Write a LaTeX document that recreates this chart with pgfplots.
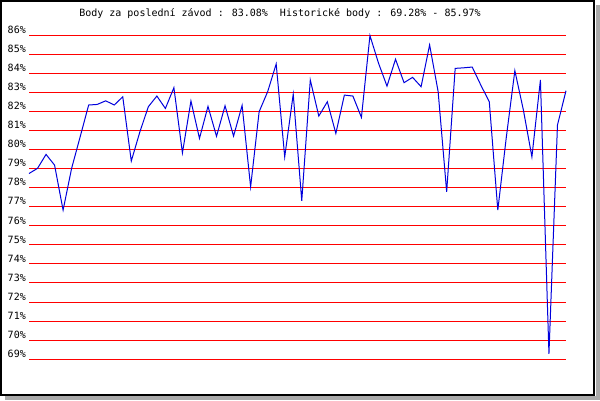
\documentclass[border=0pt]{standalone}
\usepackage{pgfplots}
\pgfplotsset{compat=1.18}
\usepackage{fontspec}
\setmainfont{DejaVu Sans Mono}
\definecolor{gridred}{RGB}{255,0,0}
\definecolor{lineblue}{RGB}{0,0,220}
\definecolor{shadowgray}{RGB}{170,170,170}
\begin{document}
\begin{tikzpicture}[x=1pt,y=1pt]
\useasboundingbox (0,0) rectangle (600,400);
\fill[white] (0,0) rectangle (600,400);
\fill[shadowgray] (5,0) rectangle (600,4);
\fill[shadowgray] (596,0) rectangle (600,395);
\begin{axis}[
  at={(29pt,40.7pt)}, anchor=south west,
  scale only axis, width=537pt, height=324.3pt,
  xmin=0, xmax=63, ymin=69, ymax=86,
  clip=false,
  axis line style={draw=none},
  tick style={draw=none},
  xtick=\empty,
  ytick={69,70,...,86},
  yticklabels={69\%,70\%,71\%,72\%,73\%,74\%,75\%,76\%,77\%,78\%,79\%,80\%,81\%,82\%,83\%,84\%,85\%,86\%},
  yticklabel style={anchor=base east, inner sep=0pt, xshift=-3pt, yshift=1.7pt, font=\fontsize{10}{12}\selectfont},
  ymajorgrids,
  grid style={gridred, line width=1pt},
]
\addplot[lineblue, line width=1pt, mark=none] coordinates {
(0,78.74) (1,79.01) (2,79.74) (3,79.18) (4,76.82) (5,79.01) (6,80.66) (7,82.33)
(8,82.36) (9,82.55) (10,82.33) (11,82.76) (12,79.39) (13,80.91) (14,82.24) (15,82.80)
(16,82.15) (17,83.24) (18,79.82) (19,82.54) (20,80.58) (21,82.26) (22,80.69) (23,82.29)
(24,80.70) (25,82.31) (26,78.04) (27,81.98) (28,83.03) (29,84.48) (30,79.61) (31,82.90)
(32,77.31) (33,83.64) (34,81.75) (35,82.50) (36,80.84) (37,82.85) (38,82.80) (39,81.68)
(40,85.97) (41,84.53) (42,83.32) (43,84.73) (44,83.50) (45,83.78) (46,83.29) (47,85.48)
(48,83.03) (49,77.78) (50,84.25) (51,84.28) (52,84.32) (53,83.38) (54,82.50) (55,76.82)
(56,80.65) (57,84.13) (58,82.07) (59,79.61) (60,83.64) (61,69.28) (62,81.28) (63,83.08)
};
\end{axis}
\node[anchor=base, inner sep=0pt, font=\fontsize{10}{12}\selectfont] at (280,383.5)
  {Body za poslední závod : 83.08\%\ \ Historické body : 69.28\% - 85.97\%};
\draw[black, line width=2pt] (1,5) rectangle (594.3,399);
\end{tikzpicture}
\end{document}
